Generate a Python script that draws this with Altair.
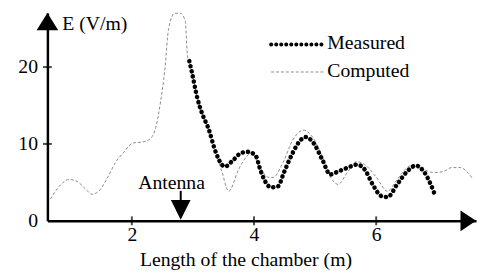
import altair as alt
import pandas as pd

# ---- data ----
computed_x = [0.667, 0.812, 0.973, 1.102, 1.247, 1.344, 1.457, 1.586, 1.731, 1.860,
              2.021, 2.183, 2.312, 2.393, 2.473, 2.538, 2.602, 2.700, 2.800, 2.876, 2.908,
              2.989, 3.070, 3.150, 3.264, 3.360, 3.473, 3.586, 3.747, 3.876, 3.957,
              4.086, 4.247, 4.312, 4.473, 4.634, 4.812, 4.957, 5.118, 5.247, 5.376,
              5.537, 5.683, 5.812, 6.005, 6.183, 6.344, 6.505, 6.618, 6.779, 6.940,
              7.102, 7.231, 7.376, 7.586]
computed_y = [2.82, 4.49, 5.38, 5.13, 4.10, 3.46, 3.85, 5.38, 7.56, 8.85,
              10.13, 10.26, 10.77, 12.18, 15.64, 19.49, 25.0, 27.0, 27.0, 25.9, 21.67,
              19.10, 16.03, 13.97, 11.79, 9.23, 6.41, 3.85, 6.67, 8.33, 8.85,
              7.05, 5.64, 5.64, 7.56, 10.51, 11.79, 10.90, 8.33, 5.77, 4.74,
              6.41, 7.69, 7.31, 5.64, 3.85, 5.38, 6.92, 7.31, 6.67, 6.28,
              6.41, 6.92, 6.92, 5.38]

measured_x = [2.941, 2.989, 3.070, 3.150, 3.264, 3.360, 3.473, 3.521, 3.666, 3.795,
              3.908, 4.037, 4.086, 4.166, 4.279, 4.392, 4.489, 4.634, 4.763, 4.844,
              4.973, 5.118, 5.247, 5.376, 5.537, 5.683, 5.812, 5.941, 6.086, 6.183,
              6.344, 6.505, 6.650, 6.779, 6.892, 6.957]
measured_y = [20.77, 19.10, 16.03, 13.97, 11.79, 9.23, 7.31, 7.05, 7.95, 8.85,
              8.97, 8.33, 7.05, 5.38, 4.36, 4.49, 6.28, 8.85, 10.51, 10.90,
              10.13, 7.95, 6.03, 6.41, 6.92, 7.31, 6.67, 4.74, 3.21, 3.08,
              4.74, 6.41, 7.18, 6.41, 4.74, 3.46]

x_ticks = [2, 4, 6]
y_ticks = [0, 10, 20]
x_domain = [0.618, 7.634]
y_domain = [0, 27.05]
antenna_x = 2.80
x_title = "Length of the chamber (m)"

FONT = "Liberation Serif"
xs = alt.Scale(domain=x_domain, nice=False, zero=False)
ys = alt.Scale(domain=y_domain, nice=False, zero=False)

comp_df = pd.DataFrame({"x": computed_x, "y": computed_y})
meas_df = pd.DataFrame({"x": measured_x, "y": measured_y})


def X():
    return alt.X("x:Q", scale=xs, title=x_title)


def Y():
    return alt.Y("y:Q", scale=ys, title=None)


base_axes = alt.Chart(pd.DataFrame({"x": x_domain, "y": y_domain})).mark_point(opacity=0).encode(
    x=alt.X("x:Q", scale=xs, title=x_title, axis=alt.Axis(
        values=x_ticks, format="d", title=x_title, grid=False, tickSize=0,
        domainColor="black", domainWidth=2.5, labelFont=FONT, labelFontSize=20,
        labelColor="black", labelPadding=4, titleFont=FONT, titleFontSize=20,
        titleFontWeight="normal", titleColor="black", titleX=201, titleY=45,
        titleBaseline="alphabetic", titleAlign="center")),
    y=alt.Y("y:Q", scale=ys, title=None, axis=alt.Axis(
        values=y_ticks, format="d", title=None, grid=False, tickSize=0, domainColor="black",
        domainWidth=2.5, labelFont=FONT, labelFontSize=20, labelColor="black",
        labelPadding=10)),
)

computed = alt.Chart(comp_df).mark_line(
    color="#8a8a8a", strokeWidth=1, strokeDash=[3, 2], interpolate="monotone"
).encode(x=X(), y=Y())

measured = alt.Chart(meas_df).mark_line(
    color="black", strokeWidth=4.6, strokeDash=[0.1, 5.2], strokeCap="round",
    interpolate="monotone"
).encode(x=X(), y=Y())

xt = alt.Chart(pd.DataFrame({"x": x_ticks, "y": [0] * len(x_ticks)})).mark_tick(
    color="black", orient="vertical", size=9, thickness=2
).encode(x=X(), y=Y())
yt = alt.Chart(pd.DataFrame({"x": [x_domain[0]] * 2, "y": y_ticks[1:]})).mark_tick(
    color="black", orient="horizontal", size=9, thickness=2
).encode(x=X(), y=Y())

arrow_up = alt.Chart(pd.DataFrame({"x": [x_domain[0]], "y": [y_domain[1]]})).mark_point(
    shape="M0,0L-1,1.6L1,1.6Z", size=484, filled=True, color="black", opacity=1
).encode(x=X(), y=Y())
arrow_right = alt.Chart(pd.DataFrame({"x": [x_domain[1]], "y": [0]})).mark_point(
    shape="M0,0L-1.5,-1L-1.5,1Z", size=440, filled=True, color="black", opacity=1
).encode(x=X(), y=Y())

# antenna marker
ant_shaft = alt.Chart(pd.DataFrame({"x": [antenna_x], "y": [3.9], "y2": [2.4]})).mark_rule(
    color="black", strokeWidth=2
).encode(x=X(), y=Y(), y2="y2:Q")
ant_head = alt.Chart(pd.DataFrame({"x": [antenna_x], "y": [0.15]})).mark_point(
    shape="M0,0L-1,-2L1,-2Z", size=400, filled=True, color="black", opacity=1
).encode(x=X(), y=Y())

texts_df = pd.DataFrame({
    "x": [2.65, 0.86, 5.2, 5.2],
    "y": [4.1, 25.6, 23.1, 19.5],
    "t": ["Antenna", "E (V/m)", "Measured", "Computed"],
    "a": ["center", "left", "left", "left"],
})
txt_center = alt.Chart(texts_df[texts_df.a == "center"]).mark_text(
    font=FONT, fontSize=20, color="black", align="center", baseline="alphabetic"
).encode(x=X(), y=Y(), text="t:N")
txt_left = alt.Chart(texts_df[texts_df.a == "left"]).mark_text(
    font=FONT, fontSize=20, color="black", align="left", baseline="middle"
).encode(x=X(), y=Y(), text="t:N")

leg_meas = alt.Chart(pd.DataFrame({"x": [4.28], "x2": [5.15], "y": [22.95]})).mark_rule(
    color="black", strokeWidth=4, strokeDash=[0.1, 5], strokeCap="round"
).encode(x=X(), x2="x2:Q", y=Y())
leg_comp = alt.Chart(pd.DataFrame({"x": [4.28], "x2": [5.15], "y": [19.36]})).mark_rule(
    color="#8a8a8a", strokeWidth=1, strokeDash=[3, 2]
).encode(x=X(), x2="x2:Q", y=Y())

chart = alt.layer(
    base_axes, computed, measured, xt, yt, arrow_up, arrow_right,
    ant_shaft, ant_head, txt_center, txt_left, leg_meas, leg_comp
).properties(
    width=435, height=211,
    autosize=alt.AutoSizeParams(type="none"),
    padding={"left": 40, "top": 3, "right": 2, "bottom": 50},
).configure_view(stroke=None)

chart.save("out.html", embed_options={"renderer": "svg", "actions": False})
